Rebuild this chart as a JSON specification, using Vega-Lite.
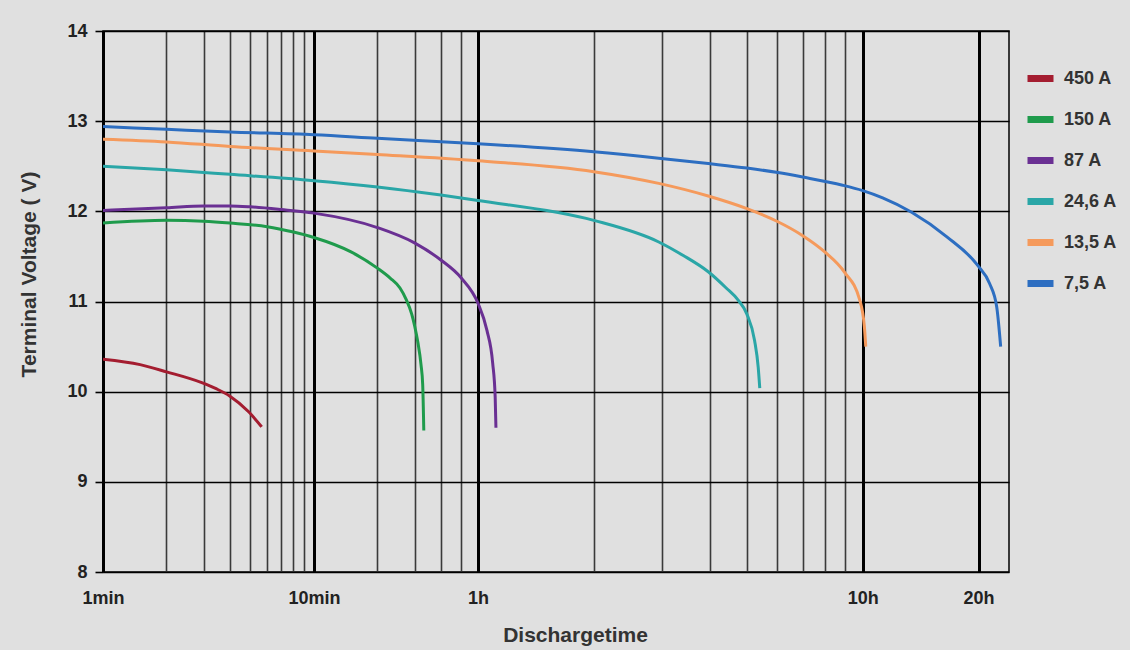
{
  "$schema": "https://vega.github.io/schema/vega-lite/v6.json",
  "width": 906,
  "height": 541,
  "autosize": {"type": "none"},
  "padding": {"left": 103, "top": 31, "right": 121, "bottom": 78},
  "background": "#e0e0e0",
  "config": {
    "font": "Liberation Sans",
    "view": {"stroke": "black", "strokeWidth": 1.5, "fill": "#e0e0e0"}
  },
  "data": {
    "values": [
      {"s": "450 A", "t": 1, "v": 10.36},
      {"s": "450 A", "t": 1.5, "v": 10.3},
      {"s": "450 A", "t": 2.0, "v": 10.22},
      {"s": "450 A", "t": 2.94, "v": 10.1},
      {"s": "450 A", "t": 3.46, "v": 10.03},
      {"s": "450 A", "t": 4.0, "v": 9.95},
      {"s": "450 A", "t": 4.89, "v": 9.78},
      {"s": "450 A", "t": 5.65, "v": 9.61},

      {"s": "150 A", "t": 1, "v": 11.87},
      {"s": "150 A", "t": 2, "v": 11.9},
      {"s": "150 A", "t": 3, "v": 11.89},
      {"s": "150 A", "t": 4, "v": 11.87},
      {"s": "150 A", "t": 6, "v": 11.83},
      {"s": "150 A", "t": 8, "v": 11.77},
      {"s": "150 A", "t": 10, "v": 11.71},
      {"s": "150 A", "t": 15, "v": 11.55},
      {"s": "150 A", "t": 20, "v": 11.37},
      {"s": "150 A", "t": 23, "v": 11.26},
      {"s": "150 A", "t": 25.6, "v": 11.15},
      {"s": "150 A", "t": 27.3, "v": 11.03},
      {"s": "150 A", "t": 29.1, "v": 10.86},
      {"s": "150 A", "t": 30.1, "v": 10.72},
      {"s": "150 A", "t": 31.1, "v": 10.55},
      {"s": "150 A", "t": 32.2, "v": 10.3},
      {"s": "150 A", "t": 32.8, "v": 10.08},
      {"s": "150 A", "t": 33.2, "v": 9.57},

      {"s": "87 A", "t": 1, "v": 12.01},
      {"s": "87 A", "t": 2, "v": 12.04},
      {"s": "87 A", "t": 3, "v": 12.06},
      {"s": "87 A", "t": 4, "v": 12.06},
      {"s": "87 A", "t": 5, "v": 12.05},
      {"s": "87 A", "t": 7, "v": 12.02},
      {"s": "87 A", "t": 10, "v": 11.98},
      {"s": "87 A", "t": 20, "v": 11.82},
      {"s": "87 A", "t": 30, "v": 11.65},
      {"s": "87 A", "t": 40, "v": 11.46},
      {"s": "87 A", "t": 50, "v": 11.26},
      {"s": "87 A", "t": 60, "v": 10.98},
      {"s": "87 A", "t": 63.3, "v": 10.68},
      {"s": "87 A", "t": 65.5, "v": 10.32},
      {"s": "87 A", "t": 66.5, "v": 9.94},
      {"s": "87 A", "t": 66.8, "v": 9.6},

      {"s": "24,6 A", "t": 1, "v": 12.5},
      {"s": "24,6 A", "t": 2, "v": 12.46},
      {"s": "24,6 A", "t": 4, "v": 12.41},
      {"s": "24,6 A", "t": 10, "v": 12.34},
      {"s": "24,6 A", "t": 20, "v": 12.27},
      {"s": "24,6 A", "t": 40, "v": 12.18},
      {"s": "24,6 A", "t": 60, "v": 12.12},
      {"s": "24,6 A", "t": 120, "v": 11.9},
      {"s": "24,6 A", "t": 177, "v": 11.66},
      {"s": "24,6 A", "t": 205, "v": 11.51},
      {"s": "24,6 A", "t": 238, "v": 11.33},
      {"s": "24,6 A", "t": 265, "v": 11.15},
      {"s": "24,6 A", "t": 284, "v": 11.02},
      {"s": "24,6 A", "t": 300, "v": 10.86},
      {"s": "24,6 A", "t": 314, "v": 10.57},
      {"s": "24,6 A", "t": 321, "v": 10.27},
      {"s": "24,6 A", "t": 324, "v": 10.04},

      {"s": "13,5 A", "t": 1, "v": 12.8},
      {"s": "13,5 A", "t": 2, "v": 12.77},
      {"s": "13,5 A", "t": 4, "v": 12.72},
      {"s": "13,5 A", "t": 10, "v": 12.67},
      {"s": "13,5 A", "t": 20, "v": 12.63},
      {"s": "13,5 A", "t": 60, "v": 12.56},
      {"s": "13,5 A", "t": 120, "v": 12.44},
      {"s": "13,5 A", "t": 177, "v": 12.31},
      {"s": "13,5 A", "t": 238, "v": 12.17},
      {"s": "13,5 A", "t": 300, "v": 12.03},
      {"s": "13,5 A", "t": 359, "v": 11.89},
      {"s": "13,5 A", "t": 419, "v": 11.73},
      {"s": "13,5 A", "t": 478, "v": 11.55},
      {"s": "13,5 A", "t": 539, "v": 11.32},
      {"s": "13,5 A", "t": 589, "v": 11.02},
      {"s": "13,5 A", "t": 606, "v": 10.72},
      {"s": "13,5 A", "t": 611, "v": 10.5},

      {"s": "7,5 A", "t": 1, "v": 12.94},
      {"s": "7,5 A", "t": 2, "v": 12.91},
      {"s": "7,5 A", "t": 4, "v": 12.88},
      {"s": "7,5 A", "t": 10, "v": 12.85},
      {"s": "7,5 A", "t": 20, "v": 12.81},
      {"s": "7,5 A", "t": 60, "v": 12.75},
      {"s": "7,5 A", "t": 120, "v": 12.66},
      {"s": "7,5 A", "t": 177, "v": 12.59},
      {"s": "7,5 A", "t": 238, "v": 12.53},
      {"s": "7,5 A", "t": 300, "v": 12.48},
      {"s": "7,5 A", "t": 361, "v": 12.43},
      {"s": "7,5 A", "t": 419, "v": 12.38},
      {"s": "7,5 A", "t": 532, "v": 12.29},
      {"s": "7,5 A", "t": 600, "v": 12.23},
      {"s": "7,5 A", "t": 676, "v": 12.15},
      {"s": "7,5 A", "t": 804, "v": 11.99},
      {"s": "7,5 A", "t": 991, "v": 11.72},
      {"s": "7,5 A", "t": 1194, "v": 11.4},
      {"s": "7,5 A", "t": 1282, "v": 11.2},
      {"s": "7,5 A", "t": 1338, "v": 10.94},
      {"s": "7,5 A", "t": 1370, "v": 10.5}
    ]
  },
  "mark": {"type": "line", "interpolate": "monotone", "strokeWidth": 3, "clip": true},
  "encoding": {
    "x": {
      "field": "t",
      "type": "quantitative",
      "scale": {"type": "log", "domain": [1, 60, 1440], "range": [0, 375, 906], "nice": false, "zero": false},
      "axis": {
        "values": [1, 2, 3, 4, 5, 6, 7, 8, 9, 10, 20, 30, 40, 50, 60, 120, 180, 240, 300, 360, 420, 480, 540, 600, 1200],
        "labelExpr": "datum.value == 1 ? '1min' : datum.value == 10 ? '10min' : datum.value == 60 ? '1h' : datum.value == 600 ? '10h' : datum.value == 1200 ? '20h' : ''",
        "grid": true,
        "gridColor": {"condition": {"test": "indexof([1,10,60,600,1200], datum.value) >= 0", "value": "#000000"}, "value": "#3a3a3a"},
        "gridWidth": {"condition": {"test": "indexof([1,10,60,600,1200], datum.value) >= 0", "value": 3}, "value": 1.6},
        "gridOpacity": 1,
        "ticks": false,
        "domain": false,
        "labelFont": "Liberation Sans",
        "labelFontSize": 18,
        "labelFontWeight": "bold",
        "labelColor": "#222222",
        "labelPadding": 17,
        "labelAlign": "center",
        "labelDx": -3,
        "labelOverlap": false,
        "labelFlush": false,
        "title": "Dischargetime",
        "titleFont": "Liberation Sans",
        "titleFontSize": 21,
        "titleFontWeight": "bold",
        "titleColor": "#333333",
        "titleX": 472,
        "titleY": 69,
        "titleBaseline": "alphabetic"
      }
    },
    "y": {
      "field": "v",
      "type": "quantitative",
      "scale": {"domain": [8, 14], "nice": false, "zero": false},
      "axis": {
        "values": [8, 9, 10, 11, 12, 13, 14],
        "grid": true,
        "gridColor": "#000000",
        "gridWidth": 1.6,
        "gridOpacity": 1,
        "ticks": true,
        "tickSize": 8,
        "tickColor": "#000000",
        "tickWidth": 1.6,
        "domain": false,
        "labelFont": "Liberation Sans",
        "labelFontSize": 18,
        "labelFontWeight": "bold",
        "labelColor": "#222222",
        "labelPadding": 8,
        "title": "Terminal Voltage ( V)",
        "titleFont": "Liberation Sans",
        "titleFontSize": 21,
        "titleFontWeight": "bold",
        "titleColor": "#333333",
        "titleX": -68,
        "titleY": 243,
        "titleAngle": -90,
        "titleAlign": "center",
        "titleBaseline": "alphabetic"
      }
    },
    "color": {
      "field": "s",
      "type": "nominal",
      "scale": {
        "domain": ["450 A", "150 A", "87 A", "24,6 A", "13,5 A", "7,5 A"],
        "range": ["#a41d30", "#1f9b4c", "#6a3093", "#2aa6a7", "#f59a5c", "#2d6ec1"]
      },
      "legend": {
        "title": null,
        "orient": "none",
        "legendX": 921,
        "legendY": 31,
        "padding": 0,
        "symbolType": "stroke",
        "symbolStrokeWidth": 7,
        "symbolSize": 676,
        "labelFont": "Liberation Sans",
        "labelFontSize": 18,
        "labelFontWeight": "bold",
        "labelColor": "#333333",
        "labelOffset": 7,
        "rowPadding": 10
      }
    }
  }
}
